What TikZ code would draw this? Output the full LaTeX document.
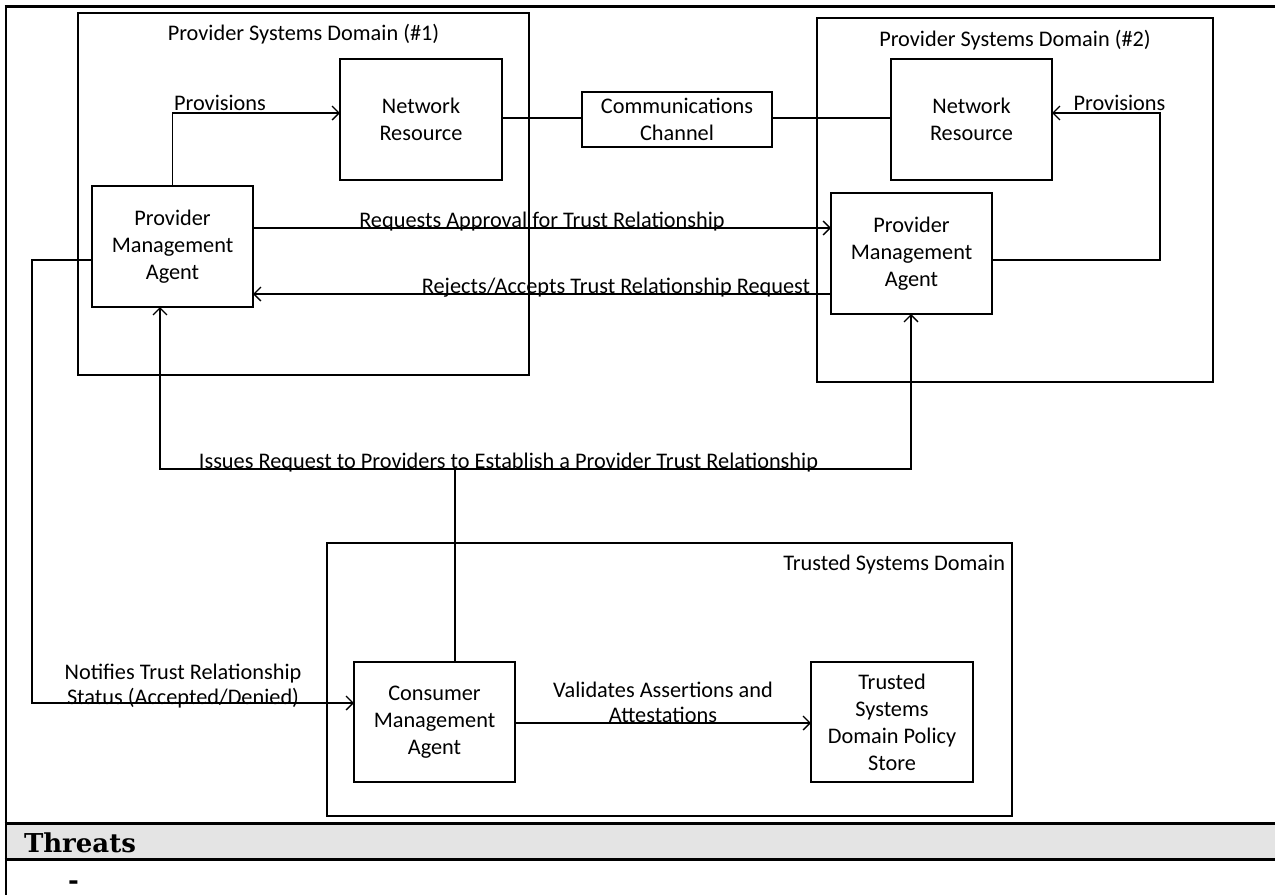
\documentclass[tikz,border=0pt]{standalone}
\usepackage{fontspec}
\setmainfont{Carlito}
\newfontfamily\threatfont{DejaVu Serif}
\usetikzlibrary{arrows.meta}
\definecolor{barfill}{HTML}{E4E4E4}
\begin{document}
\begin{tikzpicture}[x=1pt,y=-1pt,
  every node/.style={font=\fontsize{22.3}{27}\selectfont, inner sep=0pt, outer sep=0pt},
  box/.style={draw, line width=1.4pt, align=center},
  dombox/.style={draw, line width=1.4pt},
  lbl/.style={font=\fontsize{22.3}{25}\selectfont, align=center},
  conn/.style={line width=1.3pt},
  arr/.style={conn, -{Straight Barb[length=7pt,width=14pt,line width=1.3pt]}},
  outerframe/.style={line width=2.6pt},
  barline/.style={line width=3pt},
  threatstyle/.style={font=\threatfont\bfseries\fontsize{26}{30}\selectfont}
]
\useasboundingbox (0,0) rectangle (1275,895);

% outer table frame and Threats bar
\fill[barfill] (5,823) rectangle (1275,859.5);
\draw[outerframe] (4.7,6.5) -- (1275,6.5);
\draw[outerframe] (6,5.2) -- (6,895);
\draw[barline] (4.5,823) -- (1275,823);
\draw[barline] (4.5,859.5) -- (1275,859.5);
\node[threatstyle, anchor=base west] (threats) at (24,852) {Threats};
\node[threatstyle, anchor=base west] (dash) at (68,889) {-};

% domains
\node[dombox, minimum width=451, minimum height=362] (d1) at (303.5,194) {};
\node[dombox, minimum width=396, minimum height=364] (d2) at (1015,200) {};
\node[dombox, minimum width=685, minimum height=273] (d3) at (669.5,679.5) {};
\node[anchor=base] (t1) at (303.5,40) {Provider Systems Domain (\#1)};
\node[anchor=base] (t2) at (1015,46) {Provider Systems Domain (\#2)};
\node[anchor=base east] (t3) at (1005,570) {Trusted Systems Domain};

% boxes
\node[box, minimum width=162, minimum height=121] (nr1) at (421,119.5) {Network\\Resource};
\node[box, minimum width=161, minimum height=121] (nr2) at (971.5,119.5) {Network\\Resource};
\node[box, minimum width=161, minimum height=121] (pma1) at (172.5,246.5) {Provider\\Management\\Agent};
\node[box, minimum width=161, minimum height=121] (pma2) at (911.5,253.5) {Provider\\Management\\Agent};
\node[box, minimum width=190, minimum height=55] (comm) at (677,119.5) {Communications\\Channel};
\node[box, minimum width=161, minimum height=120] (cma) at (434.5,722) {Consumer\\Management\\Agent};
\node[box, minimum width=162, minimum height=120] (tsd) at (892,722) {Trusted\\Systems\\Domain Policy\\Store};

% helper coordinates
\coordinate (p2c) at (1160,113);
\coordinate (iss) at (455,469);
\coordinate (issL) at (160,469);
\coordinate (issR) at (911,469);
\coordinate (nl1) at (32,260);
\coordinate (nl2) at (32,703);

% connectors
\draw[arr] (pma1.north) |- (nr1.west |- 0,113);
\draw[arr] (pma2.east |- 0,260) -| (p2c) -- (nr2.east |- p2c);
\draw[conn] (nr1.east |- 0,118) -- (comm.west |- 0,118);
\draw[conn] (comm.east |- 0,118) -- (nr2.west |- 0,118);
\draw[arr] (pma1.east |- 0,228) -- (pma2.west |- 0,228);
\draw[arr] (pma2.west |- 0,294) -- (pma1.east |- 0,294);
\draw[conn] (cma.north -| iss) -- (iss);
\draw[arr] (iss) -- (issL) -- (pma1.south -| issL);
\draw[arr] (iss) -- (issR) -- (pma2.south -| issR);
\draw[arr] (pma1.west |- nl1) -- (nl1) -- (nl2) -- (cma.west |- nl2);
\draw[arr] (cma.east |- 0,723) -- (tsd.west |- 0,723);

% connector labels
\node[lbl, anchor=base] (lprov1) at (220,110) {Provisions};
\node[lbl, anchor=base] (lprov2) at (1119.5,110) {Provisions};
\node[lbl, anchor=base] (lreq) at (542,227) {Requests Approval for Trust Relationship};
\node[lbl, anchor=base] (lrej) at (616,293) {Rejects/Accepts Trust Relationship Request};
\node[lbl, anchor=base] (liss) at (508.5,468) {Issues Request to Providers to Establish a Provider Trust Relationship};
\node[lbl] (lnot) at (183,686) {Notifies Trust Relationship\\Status (Accepted/Denied)};
\node[lbl] (lval) at (663,702) {Validates Assertions and\\Attestations};
\end{tikzpicture}
\end{document}
